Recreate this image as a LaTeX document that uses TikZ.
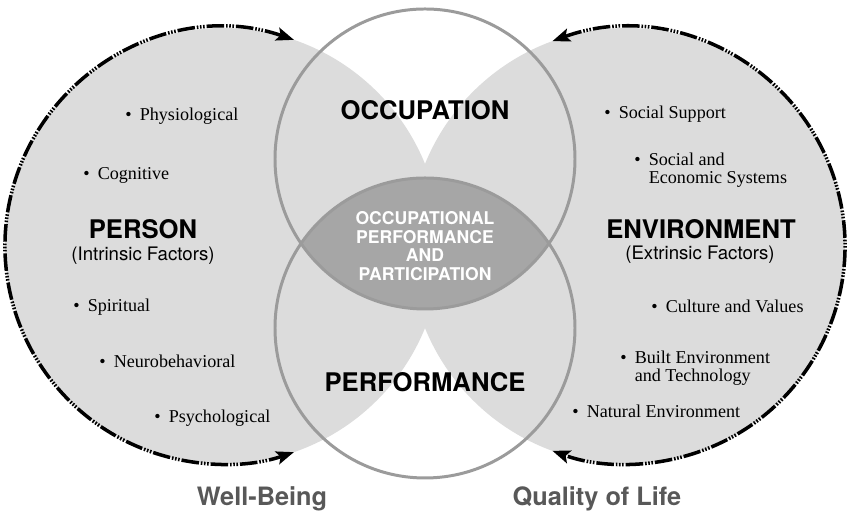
\documentclass[tikz,border=0pt]{standalone}
\usepackage{fontspec}
\setmainfont{Liberation Serif}
\setsansfont{TeX Gyre Heros}
\usepackage{tikz}
\usetikzlibrary{arrows.meta}
\definecolor{softgray}{RGB}{220,220,220}
\definecolor{lensgray}{RGB}{166,166,166}
\definecolor{ringgray}{RGB}{155,155,155}
\definecolor{textgray}{RGB}{88,88,88}
\newcommand{\bl}{\textbullet\hspace{0.45em}}
\newcommand{\blgap}{\hphantom{\textbullet\hspace{0.45em}}}

\begin{document}
\begin{tikzpicture}[x=0.02cm,y=0.02cm,
  ring/.style={draw=ringgray,line width=1.7pt},
  border/.style={line width=2pt,
    dash pattern=on 10pt off 1.1pt on 0.9pt off 0.9pt on 0.9pt off 0.9pt on 0.9pt off 1.1pt,
    {Stealth[length=10pt,width=7.5pt,inset=2pt]}-{Stealth[length=10pt,width=7.5pt,inset=2pt]}},
  head/.style={font=\sffamily\bfseries\fontsize{14.6}{16}\selectfont},
  sub/.style={font=\sffamily\fontsize{10.6}{12}\selectfont},
  core/.style={font=\sffamily\bfseries\fontsize{10}{10.6}\selectfont,text=white,align=center},
  item/.style={anchor=base west,inner sep=0pt,align=left,font=\fontsize{10.3}{10.5}\selectfont},
  outcome/.style={font=\sffamily\bfseries\fontsize{14.4}{16}\selectfont,text=textgray}]
\useasboundingbox (0,0) rectangle (850,519);

\coordinate (person) at (223,273);
\coordinate (environment) at (627,273);
\coordinate (occupation) at (425,360);
\coordinate (performance) at (425,191);

% the two big discs
\fill[softgray] (person) circle (218);
\fill[softgray] (environment) circle (218);

% lens between occupation and performance
\begin{scope}
\clip (occupation) circle (150);
\fill[lensgray] (performance) circle (150);
\end{scope}
\draw[ring] (occupation) circle (150);
\draw[ring] (performance) circle (150);

% borders with arrows
\draw[border] (person) ++(71:218) arc[start angle=71,end angle=289,radius=218];
\draw[border] (environment) ++(110:218) arc[start angle=110,end angle=-110,radius=218];

\node[head] (occ) at (425,409) {OCCUPATION};
\node[head] (perf) at (425,137) {PERFORMANCE};
\node[head] (pers) at (143,290) {PERSON};
\node[sub] (intr) at (143,263) {(Intrinsic Factors)};
\node[head] (env) at (701,290) {ENVIRONMENT};
\node[sub] (extr) at (700,264) {(Extrinsic Factors)};
\node[core] (opp) at (425,273) {OCCUPATIONAL\\PERFORMANCE\\AND\\PARTICIPATION};

\node[item] (phys) at (125,398) {\bl Physiological};
\node[item] (cogn) at (83,339) {\bl Cognitive};
\node[item] (spir) at (73,207) {\bl Spiritual};
\node[item] (neur) at (99,151) {\bl Neurobehavioral};
\node[item] (psyc) at (154,96) {\bl Psychological};

\node[item] (supp) at (604,400) {\bl Social Support};
\node[item] (econ) at (634,335) {\bl Social and\\\blgap Economic Systems};
\node[item] (cult) at (651,206) {\bl Culture and Values};
\node[item] (built) at (620,137) {\bl Built Environment\\\blgap and Technology};
\node[item] (natu) at (572,101) {\bl Natural Environment};

\node[outcome] (well) at (262,20) {Well-Being};
\node[outcome] (qual) at (597,20) {Quality of Life};
\end{tikzpicture}
\end{document}
